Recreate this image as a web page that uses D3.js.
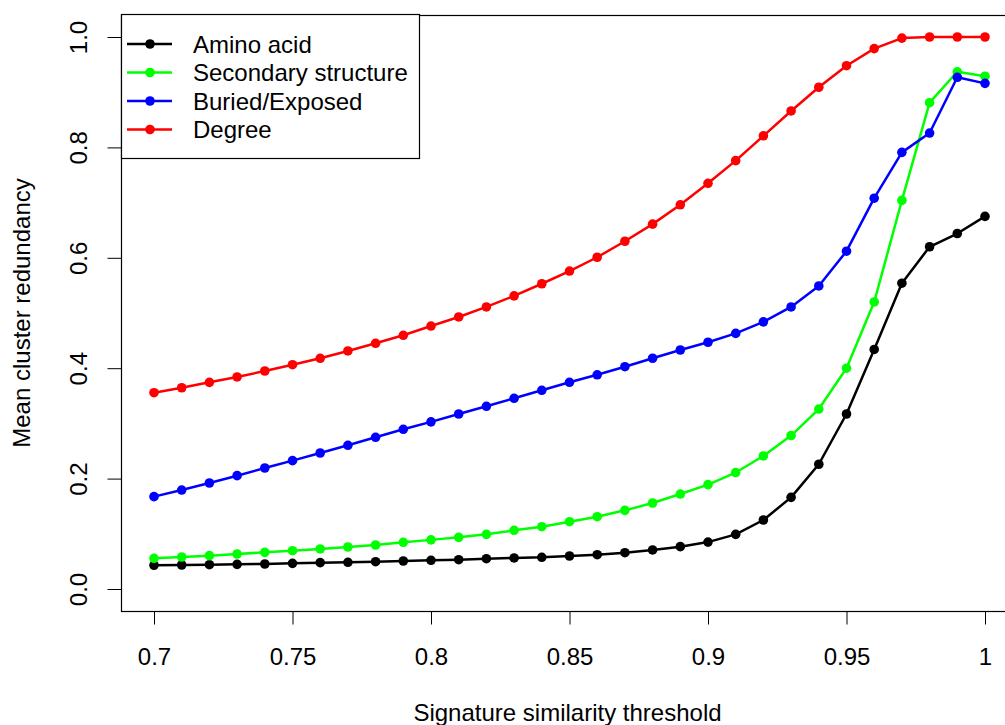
<!DOCTYPE html>
<html>
<head>
<meta charset="utf-8">
<script src="https://cdn.jsdelivr.net/npm/d3@7"></script>
<style>
  html, body { margin: 0; padding: 0; background: #fff; }
  svg { display: block; }
  text { font-family: "Liberation Sans", Arial, Helvetica, sans-serif; fill: #000; }
</style>
</head>
<body>
<svg id="chart" width="1005" height="725"></svg>
<script>
const thresholds = [0.70,0.71,0.72,0.73,0.74,0.75,0.76,0.77,0.78,0.79,0.80,0.81,0.82,0.83,0.84,0.85,0.86,0.87,0.88,0.89,0.90,0.91,0.92,0.93,0.94,0.95,0.96,0.97,0.98,0.99,1.00];

const aminoAcid = [0.043,0.0435,0.044,0.0447,0.0453,0.0465,0.0477,0.0484,0.0495,0.0507,0.052,0.0531,0.0549,0.0562,0.0574,0.0598,0.0621,0.0658,0.0707,0.0767,0.085,0.099,0.125,0.166,0.226,0.317,0.434,0.554,0.62,0.644,0.675];
const secondaryStructure = [0.0556,0.058,0.0604,0.0634,0.0664,0.0694,0.0725,0.0761,0.0797,0.0846,0.089,0.0936,0.099,0.1063,0.1129,0.1219,0.131,0.1425,0.1558,0.172,0.189,0.211,0.241,0.278,0.326,0.40,0.52,0.704,0.881,0.937,0.929];
const buriedExposed = [0.1673,0.1793,0.192,0.2053,0.2192,0.2325,0.2464,0.2603,0.2748,0.2893,0.3028,0.317,0.331,0.3455,0.36,0.3745,0.388,0.4027,0.418,0.433,0.447,0.463,0.484,0.511,0.549,0.612,0.708,0.791,0.826,0.927,0.916];
const degree = [0.3556,0.3646,0.3744,0.3841,0.3949,0.4063,0.4179,0.4312,0.4451,0.4596,0.4764,0.4928,0.511,0.531,0.553,0.576,0.601,0.630,0.661,0.696,0.735,0.776,0.821,0.866,0.909,0.948,0.979,0.998,1.0,1.0,1.0];

const seriesNames = ["Amino acid", "Secondary structure", "Buried/Exposed", "Degree"];
const seriesColors = ["#000000", "#00ff00", "#0000ff", "#ff0000"];
const seriesValues = [aminoAcid, secondaryStructure, buriedExposed, degree];

const xTicks = [0.7, 0.75, 0.8, 0.85, 0.9, 0.95, 1];
const xTickLabels = ["0.7", "0.75", "0.8", "0.85", "0.9", "0.95", "1"];
const yTicks = [0, 0.2, 0.4, 0.6, 0.8, 1.0];
const yTickLabels = ["0.0", "0.2", "0.4", "0.6", "0.8", "1.0"];

const xTitle = "Signature similarity threshold";
const yTitle = "Mean cluster redundancy";

// layout
const box = { left: 121, top: 15, right: 1018, bottom: 611 };
const svg = d3.select("#chart");

const x = d3.scaleLinear().domain([0.7, 1.0]).range([154, 985]);
const y = d3.scaleLinear().domain([0, 1]).range([589, 37]);

// frame
svg.append("rect")
  .attr("x", box.left + 0.5).attr("y", box.top + 0.5)
  .attr("width", box.right - box.left).attr("height", box.bottom - box.top)
  .attr("fill", "none").attr("stroke", "#000").attr("stroke-width", 1.2);

// x axis
const xAxis = d3.axisBottom(x)
  .tickValues(xTicks)
  .tickFormat((d, i) => xTickLabels[i])
  .tickSize(13)
  .tickPadding(27);
const gx = svg.append("g").attr("transform", `translate(0,${box.bottom + 0.5})`).call(xAxis);
gx.select(".domain").remove();
gx.selectAll(".tick line").attr("stroke", "#000").attr("stroke-width", 1);
gx.selectAll(".tick text").style("font-size", "24px").attr("fill", "#000")
  .attr("dy", null).attr("y", 53);

// y axis
const yAxis = d3.axisLeft(y)
  .tickValues(yTicks)
  .tickFormat((d, i) => yTickLabels[i])
  .tickSize(14);
const gy = svg.append("g").attr("transform", `translate(${box.left + 0.5},0)`).call(yAxis);
gy.select(".domain").remove();
gy.selectAll(".tick line").attr("stroke", "#000").attr("stroke-width", 1);
gy.selectAll(".tick text")
  .style("font-size", "24px").attr("fill", "#000")
  .attr("x", null).attr("dy", null)
  .attr("text-anchor", "middle")
  .attr("transform", "translate(-35,0) rotate(-90)");

// axis titles
svg.append("text")
  .attr("x", (box.left + box.right) / 2 - 2).attr("y", 721)
  .attr("text-anchor", "middle").style("font-size", "24px")
  .text(xTitle);
svg.append("text")
  .attr("transform", `translate(30,${(box.top + box.bottom) / 2}) rotate(-90)`)
  .attr("text-anchor", "middle").style("font-size", "24px")
  .text(yTitle);

// series
const line = d3.line().x((d, i) => x(thresholds[i])).y(d => y(d));
seriesValues.forEach((vals, si) => {
  const g = svg.append("g");
  g.append("path").datum(vals)
    .attr("d", line)
    .attr("fill", "none")
    .attr("stroke", seriesColors[si])
    .attr("stroke-width", 2.5)
    .attr("stroke-linejoin", "round");
  g.selectAll("circle").data(vals).enter().append("circle")
    .attr("cx", (d, i) => x(thresholds[i]))
    .attr("cy", d => y(d))
    .attr("r", 4.8)
    .attr("fill", seriesColors[si]);
});

// legend
const leg = svg.append("g");
leg.append("rect")
  .attr("x", box.left + 0.5).attr("y", 14.5)
  .attr("width", 298).attr("height", 144)
  .attr("fill", "#fff").attr("stroke", "#000").attr("stroke-width", 1.2);
const legY = [44, 72.5, 101, 129.5];
seriesNames.forEach((name, i) => {
  leg.append("line")
    .attr("x1", 127).attr("x2", 172)
    .attr("y1", legY[i]).attr("y2", legY[i])
    .attr("stroke", seriesColors[i]).attr("stroke-width", 2.5);
  leg.append("circle")
    .attr("cx", 150).attr("cy", legY[i]).attr("r", 4.8)
    .attr("fill", seriesColors[i]);
  leg.append("text")
    .attr("x", 193).attr("y", legY[i] + 8.5)
    .style("font-size", "24px")
    .text(name);
});
</script>
</body>
</html>
